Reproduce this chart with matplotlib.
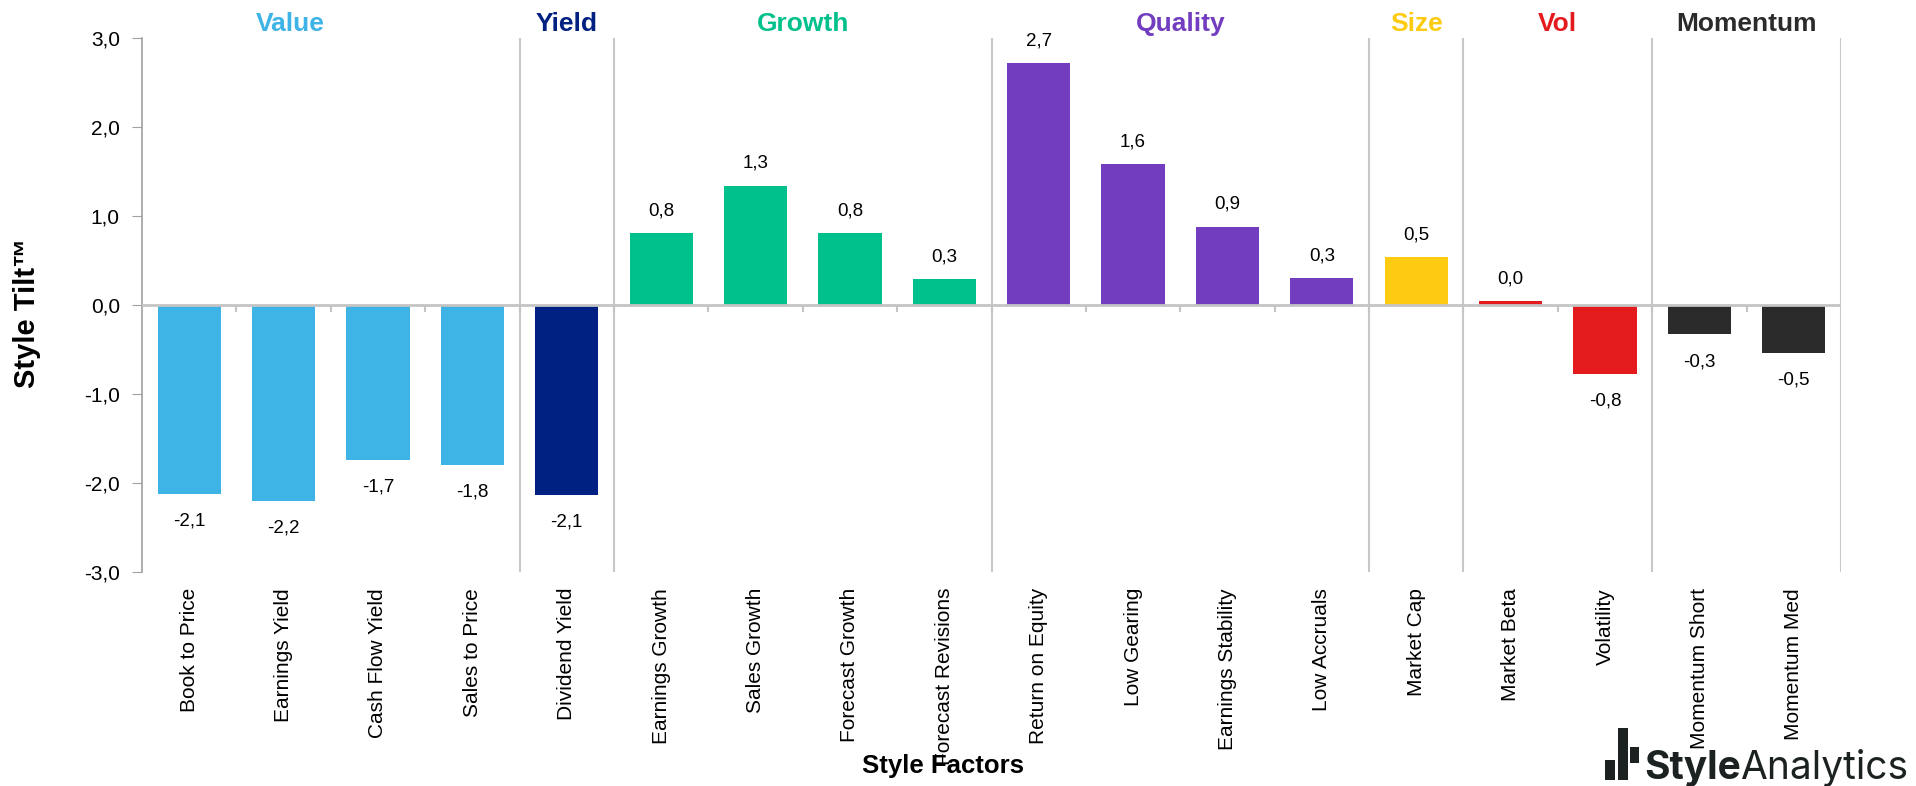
import numpy as np
import matplotlib
matplotlib.use("Agg")
import matplotlib.pyplot as plt
from matplotlib.patches import Rectangle
from matplotlib.transforms import blended_transform_factory

plt.rcParams['font.family'] = ['Liberation Sans', 'DejaVu Sans']

categories = ["Book to Price", "Earnings Yield", "Cash Flow Yield", "Sales to Price",
              "Dividend Yield",
              "Earnings Growth", "Sales Growth", "Forecast Growth", "Forecast Revisions",
              "Return on Equity", "Low Gearing", "Earnings Stability", "Low Accruals",
              "Market Cap",
              "Market Beta", "Volatility",
              "Momentum Short", "Momentum Med"]
values = [-2.12, -2.20, -1.74, -1.80,
          -2.13,
          0.81, 1.34, 0.81, 0.29,
          2.72, 1.58, 0.88, 0.30,
          0.54,
          0.04, -0.77,
          -0.33, -0.54]
groups = ["Value", "Yield", "Growth", "Quality", "Size", "Vol", "Momentum"]
group_sizes = [4, 1, 4, 4, 1, 2, 2]
group_colors = ["#3DB3E6", "#002082", "#00C08B", "#733DBF", "#FCCB12", "#E31B1D", "#2B2B2B"]
header_offsets = {"Value": -0.43}
y_ticks = [-3, -2, -1, 0, 1, 2, 3]

W, H = 1916, 786
fig = plt.figure(figsize=(W / 100, H / 100), dpi=100)
ax = fig.add_axes([142 / W, 1 - 572 / H, (1841 - 142) / W, (572 - 38) / H])

n = len(categories)
x = np.arange(n)
bar_colors = []
for g, s, c in zip(groups, group_sizes, group_colors):
    bar_colors += [c] * s

ax.bar(x, values, width=0.67, color=bar_colors, zorder=2)

ax.set_xlim(-0.5, n - 0.5)
ax.set_ylim(min(y_ticks), max(y_ticks))

# zero line
ax.axhline(0, color="#C4C4C4", lw=2, zorder=3)
# small tick marks at category boundaries on zero line
bounds_all = np.arange(n - 1) + 0.5
ax.vlines(bounds_all, -0.08, 0, color="#C4C4C4", lw=1.5, zorder=3)

# group separators
ends = np.cumsum(group_sizes) - 0.5
ax.vlines(ends, min(y_ticks), max(y_ticks), color="#C8C8C8", lw=1.5, zorder=1)

# spines
for s in ["top", "right", "bottom"]:
    ax.spines[s].set_visible(False)
ax.spines["left"].set_color("#A0A0A0")
ax.spines["left"].set_linewidth(1.2)

ax.set_yticks(y_ticks)
ax.set_yticklabels([f"{v:.1f}".replace(".", ",") for v in y_ticks], fontsize=15)
ax.tick_params(axis="y", length=7, color="#A0A0A0", pad=9)

ax.set_xticks(x)
ax.set_xticklabels(categories, rotation=90, fontsize=15, va="top", ha="center")
ax.tick_params(axis="x", length=0, pad=11.5)

# value labels
for xi, v in zip(x, values):
    lab = f"{v:.1f}".replace(".", ",")
    if v >= 0:
        ax.annotate(lab, (xi, v), xytext=(0, 10), textcoords="offset points",
                    ha="center", va="bottom", fontsize=13.5)
    else:
        ax.annotate(lab, (xi, v), xytext=(0, -13.5), textcoords="offset points",
                    ha="center", va="top", fontsize=13.5)

# group headers
trans = blended_transform_factory(ax.transData, ax.transAxes)
starts = np.concatenate([[0], np.cumsum(group_sizes)[:-1]])
for g, st, sz, c in zip(groups, starts, group_sizes, group_colors):
    cx = st + (sz - 1) / 2 + header_offsets.get(g, 0)
    ax.text(cx, 1.013, g, transform=trans, ha="center", va="baseline",
            fontsize=19, fontweight="bold", color=c)

# axis titles
fig.text(27 / W, 1 - 313 / H, "Style Tilt™", rotation=90, ha="center", va="center",
         fontsize=21, fontweight="bold")
fig.text(943 / W, 1 - 773 / H, "Style Factors", ha="center", va="baseline",
         fontsize=18.5, fontweight="bold")

# logo
logo_c = "#1C2221"
for (x0, x1, y0, y1) in [(1605, 1615, 760, 780), (1618, 1628, 728, 780), (1630, 1639, 747, 763)]:
    fig.add_artist(Rectangle((x0 / W, 1 - y1 / H), (x1 - x0) / W, (y1 - y0) / H,
                             transform=fig.transFigure, color=logo_c, lw=0))
t1 = fig.text(1644 / W, 1 - 779 / H, "Style", ha="left", va="baseline",
              fontsize=28, fontweight="bold", color=logo_c, family=["Inter", "DejaVu Sans"])
r = fig.canvas.get_renderer()
bb = t1.get_window_extent(renderer=r)
fig.text(bb.x1 / W - 1 / W, 1 - 779 / H, "Analytics", ha="left", va="baseline",
         fontsize=28, color=logo_c, family=["Inter", "DejaVu Sans"])

fig.savefig("out.png", dpi=100, facecolor="white")
